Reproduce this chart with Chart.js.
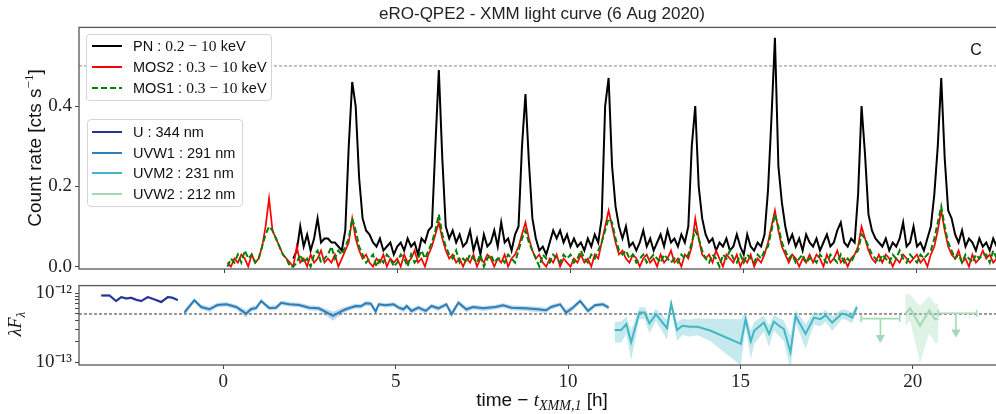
<!DOCTYPE html>
<html>
<head>
<meta charset="utf-8">
<title>eRO-QPE2 - XMM light curve</title>
<script src="https://cdn.jsdelivr.net/npm/chart.js@4.4.1/dist/chart.umd.min.js"></script>
<style>
  html, body { margin: 0; padding: 0; background: #fff; overflow: hidden; }
  #wrap { position: relative; width: 996px; height: 414px; overflow: hidden; }
  #topCanvas { position: absolute; left: 0; top: 0; }
  #bottomCanvas { position: absolute; left: 0; top: 280px; }
  .legend {
    position: absolute; box-sizing: border-box;
    background: rgba(255,255,255,0.85);
    border: 1px solid #d4d4d4; border-radius: 4px;
    font: 14.5px "Liberation Sans", Arial, sans-serif; color: #111;
  }
  .legend .row { position: absolute; left: 0; right: 0; height: 20px; }
  .legend .swatch { position: absolute; top: 9px; width: 30px; height: 2px; }
  .legend .label { position: absolute; line-height: 20px; white-space: nowrap; }
  .legend .math { font-family: "Liberation Serif", serif; font-size: 15.5px; }
</style>
</head>
<body>
<div id="wrap">
  <canvas id="topCanvas" width="1006" height="280"></canvas>
  <canvas id="bottomCanvas" width="1006" height="134"></canvas>
  <div id="legendXray" class="legend" style="left:86px; top:34px; width:186px; height:67px;"></div>
  <div id="legendUV" class="legend" style="left:87px; top:119px; width:156px; height:88px;"></div>
</div>
<script>
// ---------- X-ray light curves (count rate, cts/s), 0.1 h bins ----------
const BIN_H = 0.1;
const PN_T0 = 2.0;     // first PN bin [h]
const MOS_T0 = 0.1;    // first MOS bin [h]

const pnRate = [
  0.02, 0.04, 0.10, 0.05, 0.08, 0.04, 0.07, 0.12, 0.06, 0.07,
  0.07, 0.06, 0.06, 0.05, 0.04, 0.09, 0.30, 0.46, 0.40, 0.22,
  0.12, 0.09, 0.08, 0.06, 0.05, 0.07, 0.04, 0.05, 0.06, 0.03,
  0.05, 0.06, 0.04, 0.07, 0.05, 0.06, 0.03, 0.07, 0.06, 0.09,
  0.10, 0.30, 0.49, 0.27, 0.10, 0.07, 0.09, 0.06, 0.08, 0.05,
  0.06, 0.09, 0.04, 0.07, 0.03, 0.08, 0.05, 0.06, 0.09, 0.05,
  0.11, 0.06, 0.07, 0.04, 0.08, 0.10, 0.30, 0.43, 0.26, 0.12,
  0.07, 0.04, 0.05, 0.03, 0.06, 0.09, 0.07, 0.09, 0.06, 0.08,
  0.05, 0.07, 0.05, 0.06, 0.04, 0.07, 0.05, 0.08, 0.06, 0.12,
  0.40, 0.47, 0.25, 0.15, 0.10, 0.07, 0.10, 0.05, 0.06, 0.04,
  0.06, 0.09, 0.05, 0.07, 0.04, 0.06, 0.08, 0.05, 0.09, 0.06,
  0.07, 0.05, 0.08, 0.06, 0.10, 0.30, 0.40, 0.20, 0.12, 0.08,
  0.06, 0.07, 0.04, 0.06, 0.05, 0.07, 0.04, 0.05, 0.08, 0.05,
  0.03, 0.08, 0.05, 0.04, 0.06, 0.05, 0.08, 0.19, 0.37, 0.57,
  0.25, 0.16, 0.10, 0.06, 0.08, 0.05, 0.07, 0.04, 0.08, 0.06,
  0.05, 0.07, 0.04, 0.06, 0.08, 0.05, 0.06, 0.09, 0.11, 0.06,
  0.05, 0.07, 0.06, 0.18, 0.40, 0.28, 0.13, 0.09, 0.07, 0.06,
  0.05, 0.07, 0.04, 0.06, 0.05, 0.07, 0.11, 0.05, 0.06, 0.10,
  0.05, 0.06, 0.04, 0.07, 0.10, 0.18, 0.30, 0.47, 0.27, 0.14,
  0.12, 0.08, 0.06, 0.09, 0.05, 0.07, 0.06, 0.04, 0.07, 0.05,
  0.06, 0.04, 0.07, 0.05, 0.06, 0.05
];

const mos2Rate = [
  0.01, 0.00, 0.02, 0.01, 0.03, 0.02, 0.00, 0.03, 0.01,
  0.02, 0.05, 0.10, 0.17, 0.09, 0.07, 0.05, 0.03, 0.02, 0.01,
  0.00, 0.05, 0.01, 0.02, 0.00, 0.03, 0.01, 0.02, 0.04, 0.01,
  0.02, 0.01, 0.03, 0.00, 0.02, 0.04, 0.06, 0.12, 0.07, 0.04,
  0.02, 0.03, 0.01, 0.00, 0.02, 0.01, 0.03, 0.00, 0.02, 0.01,
  0.02, 0.00, 0.03, 0.01, 0.02, 0.04, 0.01, 0.02, 0.00, 0.03,
  0.05, 0.08, 0.11, 0.07, 0.04, 0.02, 0.03, 0.01, 0.02, 0.00,
  0.02, 0.01, 0.03, 0.00, 0.02, 0.01, 0.03, 0.02, 0.00, 0.02,
  0.01, 0.03, 0.00, 0.02, 0.03, 0.05, 0.08, 0.11, 0.07, 0.04,
  0.02, 0.03, 0.01, 0.00, 0.02, 0.01, 0.03, 0.00, 0.02, 0.01,
  0.00, 0.02, 0.01, 0.03, 0.01, 0.02, 0.00, 0.03, 0.02, 0.06,
  0.10, 0.14, 0.10, 0.06, 0.03, 0.04, 0.02, 0.01, 0.03, 0.02,
  0.00, 0.02, 0.03, 0.01, 0.02, 0.00, 0.03, 0.01, 0.02, 0.04,
  0.01, 0.02, 0.00, 0.03, 0.02, 0.05, 0.12, 0.07, 0.03, 0.02,
  0.03, 0.01, 0.04, 0.02, 0.00, 0.03, 0.02, 0.01, 0.03, 0.00,
  0.02, 0.01, 0.03, 0.00, 0.02, 0.01, 0.03, 0.06, 0.10, 0.14,
  0.09, 0.05, 0.03, 0.01, 0.03, 0.02, 0.00, 0.02, 0.01, 0.03,
  0.01, 0.03, 0.02, 0.00, 0.03, 0.01, 0.02, 0.04, 0.01, 0.02,
  0.00, 0.02, 0.03, 0.05, 0.10, 0.07, 0.04, 0.02, 0.01, 0.03,
  0.01, 0.03, 0.02, 0.00, 0.02, 0.01, 0.03, 0.02, 0.01, 0.02,
  0.03, 0.01, 0.02, 0.00, 0.03, 0.05, 0.09, 0.14, 0.09, 0.05,
  0.03, 0.02, 0.04, 0.01, 0.02, 0.00, 0.03, 0.01, 0.02, 0.04,
  0.02, 0.03, 0.01, 0.02, 0.03, 0.01
];

const mos1Rate = [
  0.00, 0.02, 0.01, 0.03, 0.01, 0.04, 0.02, 0.03, 0.01,
  0.02, 0.05, 0.08, 0.10, 0.09, 0.07, 0.05, 0.03, 0.02, 0.00,
  0.00, 0.01, 0.03, 0.01, 0.02, 0.00, 0.03, 0.04, 0.01, 0.02,
  0.03, 0.05, 0.02, 0.04, 0.03, 0.05, 0.07, 0.12, 0.09, 0.05,
  0.03, 0.01, 0.02, 0.03, 0.00, 0.02, 0.01, 0.03, 0.02, 0.00,
  0.01, 0.03, 0.02, 0.00, 0.03, 0.01, 0.02, 0.04, 0.02, 0.04,
  0.06, 0.09, 0.13, 0.08, 0.05, 0.03, 0.02, 0.04, 0.01, 0.02,
  0.01, 0.03, 0.02, 0.01, 0.03, 0.00, 0.02, 0.03, 0.01, 0.02,
  0.02, 0.01, 0.03, 0.02, 0.01, 0.04, 0.07, 0.09, 0.06, 0.04,
  0.02, 0.00, 0.03, 0.02, 0.01, 0.03, 0.02, 0.01, 0.03, 0.02,
  0.03, 0.01, 0.02, 0.04, 0.02, 0.01, 0.03, 0.02, 0.04, 0.06,
  0.09, 0.12, 0.11, 0.07, 0.04, 0.03, 0.04, 0.02, 0.03, 0.01,
  0.02, 0.03, 0.01, 0.02, 0.03, 0.02, 0.01, 0.03, 0.02, 0.01,
  0.02, 0.01, 0.03, 0.02, 0.03, 0.06, 0.09, 0.07, 0.04, 0.02,
  0.01, 0.03, 0.02, 0.00, 0.03, 0.02, 0.04, 0.02, 0.01, 0.03,
  0.01, 0.03, 0.02, 0.01, 0.03, 0.02, 0.04, 0.05, 0.09, 0.13,
  0.10, 0.06, 0.04, 0.02, 0.03, 0.01, 0.02, 0.03, 0.01, 0.02,
  0.02, 0.01, 0.03, 0.02, 0.01, 0.03, 0.02, 0.01, 0.03, 0.01,
  0.02, 0.01, 0.03, 0.04, 0.08, 0.07, 0.05, 0.03, 0.02, 0.01,
  0.03, 0.02, 0.01, 0.03, 0.02, 0.04, 0.02, 0.01, 0.03, 0.02,
  0.01, 0.03, 0.02, 0.03, 0.04, 0.07, 0.11, 0.15, 0.10, 0.06,
  0.04, 0.02, 0.03, 0.01, 0.03, 0.02, 0.01, 0.03, 0.02, 0.03,
  0.03, 0.01, 0.04, 0.02, 0.02, 0.03
];

// ---------- OM photometry (lambda F_lambda in units of 1e-13) ----------
const FLUX_UNIT = 1e-13;

const uTime  = [-3.54, -3.30, -3.11, -2.96, -2.82, -2.67, -2.53, -2.38, -2.19, -2.00, -1.80, -1.61, -1.47, -1.32];
const uFlux  = [9.27, 9.27, 7.69, 8.77, 8.40, 8.57, 8.03, 7.69, 8.77, 8.13, 7.44, 8.77, 8.57, 7.94];
const uErr   = [0.40, 0.40, 0.36, 0.40, 0.38, 0.38, 0.37, 0.36, 0.40, 0.37, 0.36, 0.40, 0.38, 0.37];

const uvw1Time = [-1.13, -0.84, -0.64, -0.40, -0.17, 0.09, 0.38, 0.66, 0.81, 0.95,
                  1.10, 1.33, 1.53, 1.68, 1.91, 2.20, 2.49, 2.77, 3.01, 3.18,
                  3.35, 3.55, 3.84, 3.99, 4.13, 4.28, 4.42, 4.51, 4.71, 4.94,
                  5.09, 5.23, 5.32, 5.46, 5.66, 5.87, 6.04, 6.24, 6.47, 6.62,
                  6.82, 7.05, 7.25, 7.54, 7.89, 8.12, 8.35, 8.76, 9.13, 9.36,
                  9.51, 9.77, 9.94, 10.14, 10.35, 10.58, 10.78, 11.01, 11.18];
const uvw1Flux = [5.24, 7.87, 6.31, 5.85, 6.74, 6.90, 6.31, 5.06, 5.91, 6.10,
                  7.69, 6.10, 6.16, 7.26, 6.90, 6.74, 6.16, 6.04, 5.24, 4.69,
                  5.24, 5.85, 6.52, 6.45, 7.13, 7.03, 5.41, 6.90, 6.67, 6.90,
                  6.16, 5.85, 6.52, 5.53, 6.16, 5.53, 6.52, 6.04, 6.90, 4.96,
                  7.26, 5.85, 6.31, 6.04, 6.31, 6.67, 6.16, 6.04, 5.85, 5.66,
                  6.31, 6.90, 5.24, 6.16, 7.69, 5.53, 6.67, 6.90, 6.16];
const uvw1Err  = [0.55, 0.55, 0.50, 0.50, 0.50, 0.50, 0.50, 0.60, 0.50, 0.50,
                  0.55, 0.50, 0.50, 0.55, 0.50, 0.50, 0.50, 0.50, 0.60, 0.70,
                  0.60, 0.50, 0.50, 0.50, 0.55, 0.55, 0.55, 0.50, 0.50, 0.50,
                  0.50, 0.50, 0.50, 0.50, 0.50, 0.50, 0.50, 0.50, 0.50, 0.60,
                  0.55, 0.50, 0.50, 0.50, 0.50, 0.50, 0.50, 0.50, 0.50, 0.50,
                  0.50, 0.50, 0.60, 0.50, 0.55, 0.50, 0.50, 0.50, 0.50];

const uvm2Time  = [11.35, 11.54, 11.69, 11.83, 12.07, 12.22, 12.36, 12.55, 12.70, 12.87,
                   12.99, 13.16, 13.32, 13.52, 13.76, 14.14, 15.01, 15.15, 15.30, 15.40,
                   15.68, 15.83, 15.97, 16.12, 16.26, 16.45, 16.60, 16.89, 17.13, 17.32,
                   17.47, 17.66, 17.95, 18.09, 18.24, 18.38];
const uvm2Flux  = [2.93, 2.93, 3.57, 1.95, 5.24, 5.24, 3.64, 4.96, 3.98, 3.13,
                   7.03, 2.93, 3.38, 3.27, 3.27, 2.86, 1.85, 4.21, 2.01, 2.86,
                   3.76, 2.57, 3.89, 3.38, 3.03, 1.40, 4.69, 2.57, 4.43, 4.21,
                   4.80, 3.76, 5.06, 4.85, 4.43, 6.31];
const uvm2ErrLo = [1.00, 1.00, 1.00, 0.87, 1.00, 1.00, 1.00, 1.00, 1.00, 1.00,
                   1.10, 0.90, 0.90, 0.90, 0.80, 0.86, 0.95, 1.00, 0.90, 1.00,
                   1.00, 0.90, 1.00, 1.00, 1.00, 0.60, 1.00, 1.00, 0.90, 0.90,
                   0.90, 0.90, 0.80, 0.80, 0.80, 0.80];
const uvm2ErrHi = [0.90, 1.00, 1.00, 0.95, 1.00, 1.00, 1.00, 1.00, 1.00, 1.00,
                   1.10, 0.90, 0.90, 0.90, 1.07, 1.40, 2.36, 1.00, 0.90, 1.00,
                   1.00, 0.90, 1.00, 1.00, 1.00, 1.05, 1.00, 1.00, 0.90, 0.90,
                   0.90, 0.90, 0.80, 0.80, 0.80, 0.80];

const uvw2Time  = [19.78, 19.92, 20.21, 20.48, 20.64, 20.74];
const uvw2Flux  = [4.96, 6.04, 3.38, 5.66, 4.21, 4.21];
const uvw2ErrLo = [1.60, 2.00, 2.40, 3.00, 2.30, 2.30];
const uvw2ErrHi = [4.60, 3.60, 3.10, 3.40, 2.80, 2.80];

// UVW2 upper limits: time span, centre and limiting flux
const ulStart = [18.50, 20.74];
const ulEnd   = [19.62, 21.85];
const ulTime  = [19.06, 21.25];
const ulFlux  = [4.29, 5.13];

// Reference levels and axis ticks
const RATE_REF = 0.5;
const FLUX_REF = 5.0;
const xTickValues = [0, 5, 10, 15, 20];
const rateTickValues = [0.0, 0.2, 0.4];
const fluxTickValues = [1e-13, 2e-13, 3e-13, 4e-13, 5e-13, 6e-13, 7e-13, 8e-13, 9e-13, 1e-12];
const fluxTickLabels = ['10\u207B\u00B9\u00B3', '', '', '', '', '', '', '', '', '10\u207B\u00B9\u00B2'];

// Legend text
const xrayNames = ['PN', 'MOS2', 'MOS1'];
const xrayBands = ['0.2 \u2212 10', '0.3 \u2212 10', '0.3 \u2212 10'];
const uvNames = ['U', 'UVW1', 'UVM2', 'UVW2'];
const uvWavelengths = [344, 291, 231, 212];

// ---------- styling ----------
const X_MIN = -4.185, X_MAX = 22.54;
const COL = { pn: '#000000', mos2: '#ff0000', mos1: '#008000',
              u: '#253494', uvw1: '#2c7fb8', uvm2: '#41b6c4', uvw2: '#a1dab4' };
const BAND_ALPHA = { u: 0.3, uvw1: 0.3, uvm2: 0.3, uvw2: 0.35 };
const SANS = '"Liberation Sans", Arial, sans-serif';
const SERIF = '"Liberation Serif", "Times New Roman", serif';
const ARROW_DROP = 0.53;   // upper-limit arrow length as a flux factor (log axis)
const FLOOR = 1e-15;       // keeps error-band lower edges positive on the log axis

Chart.defaults.font.family = SANS;

function rgba(hex, a) {
  const n = parseInt(hex.slice(1), 16);
  return `rgba(${(n >> 16) & 255},${(n >> 8) & 255},${n & 255},${a})`;
}
const binned = (t0, arr) => arr.map((y, i) => ({ x: +(t0 + i * BIN_H).toFixed(2), y }));

// Rich text: runs of different fonts/offsets drawn as one caption
function drawRuns(ctx, runs, cx, cy, rot) {
  ctx.save();
  ctx.translate(cx, cy);
  ctx.rotate(rot);
  ctx.fillStyle = '#111';
  ctx.textBaseline = 'alphabetic';
  let total = 0;
  runs.forEach(r => { ctx.font = r.font; r.w = ctx.measureText(r.text).width; total += r.w; });
  let x = -total / 2;
  runs.forEach(r => { ctx.font = r.font; ctx.fillText(r.text, x, r.dy || 0); x += r.w; });
  ctx.restore();
}

function frame(chart) {
  const a = chart.chartArea, ctx = chart.ctx;
  ctx.save();
  ctx.strokeStyle = '#555';
  ctx.lineWidth = 1.3;
  ctx.strokeRect(a.left, a.top, a.right - a.left, a.bottom - a.top);
  ctx.restore();
}

// Fixed axis box sizes, no extra room for overhanging labels
function fixBox(size, horizontal) {
  return s => {
    if (horizontal) s.height = size; else s.width = size;
    s.paddingTop = 0; s.paddingBottom = 0; s.paddingLeft = 0; s.paddingRight = 0;
  };
}

const tickFont = { family: SERIF, size: 19 };
function xScale(showLabels, height) {
  return {
    type: 'linear', min: X_MIN, max: X_MAX, bounds: 'data',
    afterBuildTicks: s => { s.ticks = xTickValues.map(v => ({ value: v })); },
    ticks: { autoSkip: false, maxRotation: 0, font: tickFont, color: '#222', padding: 2,
             callback: v => showLabels ? String(v) : '' },
    grid: { drawOnChartArea: false, drawTicks: true, tickLength: 4, color: '#444' },
    border: { display: false },
    afterFit: fixBox(height, true)
  };
}

// ---------- top panel: X-ray count rates ----------
new Chart(document.getElementById('topCanvas'), {
  type: 'line',
  data: {
    datasets: [
      { label: 'PN', data: binned(PN_T0, pnRate), borderColor: COL.pn, borderWidth: 2, order: 3 },
      { label: 'MOS2', data: binned(MOS_T0, mos2Rate), borderColor: COL.mos2, borderWidth: 1.7, order: 2 },
      { label: 'MOS1', data: binned(MOS_T0, mos1Rate), borderColor: COL.mos1, borderWidth: 2, borderDash: [6, 3], order: 1 },
      { label: 'reference', data: [{ x: X_MIN, y: RATE_REF }, { x: X_MAX, y: RATE_REF }],
        borderColor: '#8a8a8a', borderWidth: 1, borderDash: [3, 2], order: 4 }
    ]
  },
  options: {
    responsive: false, animation: false, devicePixelRatio: 1,
    elements: { point: { radius: 0 }, line: { tension: 0, fill: false } },
    layout: { padding: { left: 0, right: 1, top: 0, bottom: 0 } },
    plugins: {
      legend: { display: false }, tooltip: { enabled: false },
      title: { display: true, text: 'eRO-QPE2 - XMM light curve (6 Aug 2020)', fullSize: false,
               font: { family: SANS, size: 17, weight: 'normal' }, color: '#222',
               padding: { top: 4, bottom: 3 } }
    },
    scales: {
      x: xScale(false, 11),
      y: {
        type: 'linear', min: -0.006, max: 0.596, bounds: 'data',
        afterBuildTicks: s => { s.ticks = rateTickValues.map(v => ({ value: v })); },
        ticks: { autoSkip: false, font: tickFont, color: '#222', padding: 3, callback: v => v.toFixed(1) },
        grid: { drawOnChartArea: false, tickLength: 4, color: '#444' },
        border: { display: false },
        afterFit: fixBox(79, false)
      }
    }
  },
  plugins: [{
    id: 'topDecor',
    afterDraw(chart) {
      frame(chart);
      const ctx = chart.ctx;
      drawRuns(ctx, [
        { text: 'Count rate [cts s', font: `19px ${SANS}` },
        { text: '\u22121', font: `13px ${SERIF}`, dy: -8 },
        { text: ']', font: `19px ${SANS}` }
      ], 41, 148, -Math.PI / 2);
      drawRuns(ctx, [{ text: 'C', font: `16px ${SANS}` }], 976, 55, 0);
    }
  }]
});

// ---------- bottom panel: OM fluxes ----------
function bandSets(key, t, v, eLo, eHi) {
  const lo = t.map((x, i) => ({ x, y: Math.max((v[i] - eLo[i]) * FLUX_UNIT, FLOOR) }));
  const hi = t.map((x, i) => ({ x, y: (v[i] + eHi[i]) * FLUX_UNIT }));
  const mid = t.map((x, i) => ({ x, y: v[i] * FLUX_UNIT }));
  return [
    { label: key + ' lower', data: lo, borderColor: 'transparent', borderWidth: 0, fill: false, order: 20 },
    { label: key + ' upper', data: hi, borderColor: 'transparent', borderWidth: 0,
      fill: '-1', backgroundColor: rgba(COL[key], BAND_ALPHA[key]), order: 20 },
    { label: key, data: mid, borderColor: COL[key], borderWidth: 2, fill: false, order: 2 }
  ];
}

const ulSets = [];
ulFlux.forEach((f, i) => {
  const y = f * FLUX_UNIT;
  ulSets.push({
    label: 'UVW2 limit span', data: [{ x: ulStart[i], y }, { x: ulEnd[i], y }],
    borderColor: COL.uvw2, borderWidth: 1.6, fill: false, order: 1,
    pointStyle: 'line', pointRotation: 90, pointRadius: 3.5,
    pointBorderColor: COL.uvw2, pointBorderWidth: 1.6
  });
  ulSets.push({
    label: 'UVW2 limit arrow', data: [{ x: ulTime[i], y }, { x: ulTime[i], y: y * ARROW_DROP }],
    borderColor: COL.uvw2, borderWidth: 1.6, fill: false, order: 1,
    pointStyle: 'triangle', pointRotation: 180,
    pointRadius: ctx => ctx.dataIndex === 1 ? 4.5 : 0,
    pointBackgroundColor: COL.uvw2, pointBorderColor: COL.uvw2, pointBorderWidth: 1
  });
});

new Chart(document.getElementById('bottomCanvas'), {
  type: 'line',
  data: {
    datasets: [
      { label: 'reference', data: [{ x: X_MIN, y: FLUX_REF * FLUX_UNIT }, { x: X_MAX, y: FLUX_REF * FLUX_UNIT }],
        borderColor: '#333', borderWidth: 1, borderDash: [3, 2], fill: false, order: 30 },
      ...bandSets('u', uTime, uFlux, uErr, uErr),
      ...bandSets('uvw1', uvw1Time, uvw1Flux, uvw1Err, uvw1Err),
      ...bandSets('uvm2', uvm2Time, uvm2Flux, uvm2ErrLo, uvm2ErrHi),
      ...bandSets('uvw2', uvw2Time, uvw2Flux, uvw2ErrLo, uvw2ErrHi),
      ...ulSets
    ]
  },
  options: {
    responsive: false, animation: false, devicePixelRatio: 1,
    elements: { point: { radius: 0 }, line: { tension: 0 } },
    layout: { padding: { left: 0, right: 1, top: 4, bottom: 0 } },
    plugins: { legend: { display: false }, tooltip: { enabled: false }, title: { display: false } },
    scales: {
      x: xScale(true, 49),
      y: {
        type: 'logarithmic', min: 9.16e-14, max: 1.285e-12, bounds: 'data',
        afterBuildTicks: s => { s.ticks = fluxTickValues.map(v => ({ value: v })); },
        ticks: { autoSkip: false, font: tickFont, color: '#222', padding: 3,
                 callback: (v, i) => fluxTickLabels[i] },
        grid: { drawOnChartArea: false, tickLength: 4, color: '#444' },
        border: { display: false },
        afterFit: fixBox(79, false)
      }
    }
  },
  plugins: [{
    id: 'bottomDecor',
    afterDraw(chart) {
      frame(chart);
      const ctx = chart.ctx;
      drawRuns(ctx, [
        { text: '\u03BBF', font: `italic 18px ${SERIF}` },
        { text: '\u03BB', font: `italic 13px ${SERIF}`, dy: 4 }
      ], 21, 44, -Math.PI / 2);
      drawRuns(ctx, [
        { text: 'time \u2212 ', font: `19px ${SANS}` },
        { text: 't', font: `italic 19px ${SERIF}` },
        { text: 'XMM,1', font: `italic 14px ${SERIF}`, dy: 4 },
        { text: ' [h]', font: `19px ${SANS}` }
      ], 542, 126, 0);
    }
  }]
});

// ---------- legends ----------
function buildLegend(el, rows, firstCenter, spacing, swatchLeft, textLeft) {
  rows.forEach((r, i) => {
    const row = document.createElement('div');
    row.className = 'row';
    row.style.top = (firstCenter + i * spacing - 10) + 'px';
    const sw = document.createElement('span');
    sw.className = 'swatch';
    sw.style.left = swatchLeft + 'px';
    sw.style.background = r.dash
      ? `repeating-linear-gradient(90deg, ${r.color} 0 6px, transparent 6px 9px)`
      : r.color;
    const lab = document.createElement('span');
    lab.className = 'label';
    lab.style.left = textLeft + 'px';
    lab.innerHTML = r.html;
    row.appendChild(sw);
    row.appendChild(lab);
    el.appendChild(row);
  });
}

const xrayColors = [COL.pn, COL.mos2, COL.mos1];
buildLegend(document.getElementById('legendXray'),
  xrayNames.map((n, i) => ({
    color: xrayColors[i], dash: n === 'MOS1',
    html: `${n} : <span class="math">${xrayBands[i]}</span> keV`
  })), 11, 21, 5, 46);

const uvColors = [COL.u, COL.uvw1, COL.uvm2, COL.uvw2];
buildLegend(document.getElementById('legendUV'),
  uvNames.map((n, i) => ({ color: uvColors[i], dash: false, html: `${n} : ${uvWavelengths[i]} nm` })),
  12, 20.7, 4, 45);
</script>
</body>
</html>
